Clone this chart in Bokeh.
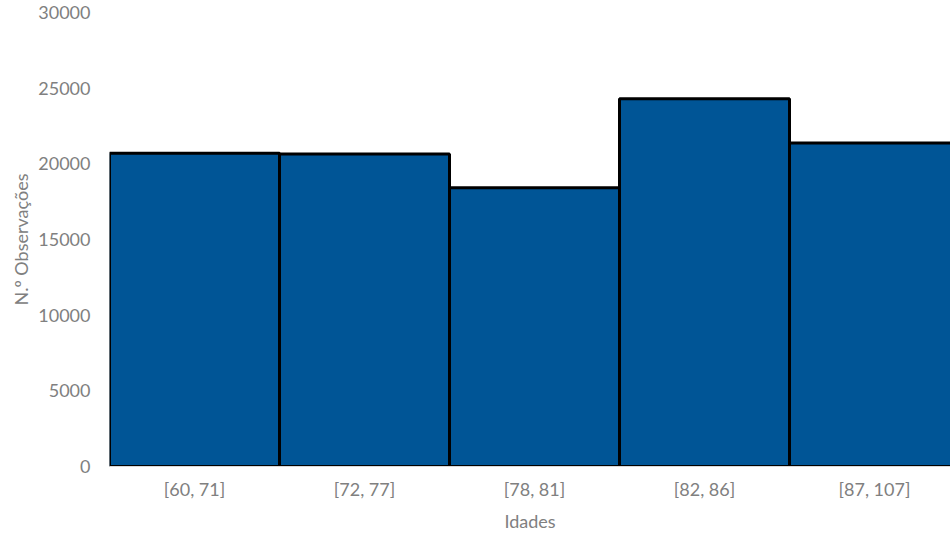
from bokeh.plotting import figure
from bokeh.models import Range1d, FixedTicker
from bokeh.embed import file_html
from bokeh.resources import INLINE

# Age-group histogram data
age_groups = ["[60, 71]", "[72, 77]", "[78, 81]", "[82, 86]", "[87, 107]"]
observations = [20700, 20650, 18420, 24300, 21370]
y_ticks = [0, 5000, 10000, 15000, 20000, 25000, 30000]

bar_color = "#005596"
text_color = "#808080"
font = "Lato"

n = len(age_groups)
lefts = list(range(n))
rights = [i + 1 for i in range(n)]
bottoms = [0] * n

p = figure(
    width=950, height=540,
    output_backend="svg", toolbar_location=None,
    x_range=Range1d(0, 841 / 170), y_range=Range1d(0, 30000),
    min_border_left=109, min_border_right=0,
    min_border_top=12, min_border_bottom=74,
)

p.quad(left=lefts, right=rights, bottom=bottoms, top=observations,
       fill_color=bar_color, line_color="black", line_width=3)

# grid / outline off
p.xgrid.grid_line_color = None
p.ygrid.grid_line_color = None
p.outline_line_color = None
p.background_fill_color = "white"
p.border_fill_color = "white"

# x axis: one centred label per bin
xa = p.xaxis[0]
xa.ticker = FixedTicker(ticks=[i + 0.5 for i in range(n)])
xa.major_label_overrides = {i + 0.5: lab for i, lab in enumerate(age_groups)}
xa.axis_line_color = "#d9d9d9"
xa.axis_line_width = 1
xa.major_tick_line_color = None
xa.minor_tick_line_color = None
xa.major_tick_out = 0
xa.major_label_standoff = 11
xa.major_label_text_font = font
xa.major_label_text_font_size = "18px"
xa.major_label_text_color = text_color
xa.axis_label = "Idades"
xa.axis_label_text_font = font
xa.axis_label_text_font_size = "18px"
xa.axis_label_text_font_style = "normal"
xa.axis_label_text_color = text_color
xa.axis_label_standoff = 7

# y axis
ya = p.yaxis[0]
ya.ticker = FixedTicker(ticks=y_ticks)
ya.axis_line_color = None
ya.major_tick_line_color = None
ya.minor_tick_line_color = None
ya.major_tick_out = 0
ya.major_label_standoff = 19
ya.major_label_text_font = font
ya.major_label_text_font_size = "18px"
ya.major_label_text_color = text_color
ya.axis_label = "N.º Observações"
ya.axis_label_text_font = font
ya.axis_label_text_font_size = "18px"
ya.axis_label_text_font_style = "normal"
ya.axis_label_text_color = text_color
ya.axis_label_standoff = 3

open("out.html", "w").write(file_html(p, INLINE))
